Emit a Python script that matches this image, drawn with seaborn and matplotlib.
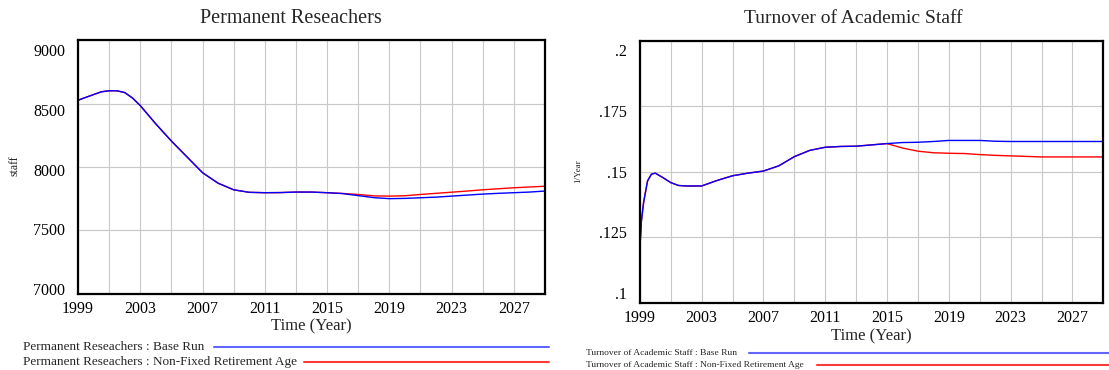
import matplotlib
matplotlib.use("Agg")
import numpy as np
import pandas as pd
import matplotlib.pyplot as plt
from matplotlib.transforms import ScaledTranslation
from matplotlib.lines import Line2D
import seaborn as sns

# ---- data -------------------------------------------------------------
scenario_base = "Base Run"
scenario_alt = "Non-Fixed Retirement Age"

years_res = [1999.0, 1999.5, 2000.0, 2000.5, 2001.0, 2001.5, 2002.0, 2002.5,
             2003.0, 2004.0, 2005.0, 2006.0, 2007.0, 2008.0, 2009.0, 2010.0,
             2011.0, 2012.0, 2013.0, 2014.0, 2015.0, 2016.0, 2017.0, 2018.0,
             2019.0, 2020.0, 2021.0, 2022.0, 2023.0, 2024.0, 2025.0, 2026.0,
             2027.0, 2028.0, 2029.0]
res_base = [8527, 8550, 8572, 8594, 8602, 8602, 8588, 8545,
            8485, 8340, 8205, 8080, 7955, 7872, 7820, 7800,
            7797, 7798, 7802, 7802, 7797, 7790, 7774, 7758,
            7750, 7752, 7757, 7762, 7770, 7778, 7786, 7792,
            7797, 7802, 7810]
res_alt = [8527, 8550, 8572, 8594, 8602, 8602, 8588, 8545,
           8485, 8340, 8205, 8080, 7955, 7872, 7820, 7800,
           7797, 7798, 7802, 7802, 7797, 7791, 7783, 7772,
           7770, 7773, 7783, 7792, 7801, 7810, 7820, 7828,
           7836, 7842, 7848]

years_turn = [1999.0, 1999.1, 1999.25, 1999.5, 1999.75, 2000.0, 2000.5,
              2001.0, 2001.5, 2002.0, 2003.0, 2004.0, 2005.0, 2006.0, 2007.0,
              2008.0, 2009.0, 2010.0, 2011.0, 2012.0, 2013.0, 2014.0, 2015.0,
              2016.0, 2017.0, 2018.0, 2019.0, 2020.0, 2021.0, 2022.0, 2023.0,
              2024.0, 2025.0, 2026.0, 2027.0, 2028.0, 2029.0]
turn_base = [0.1200, 0.1310, 0.1385, 0.1465, 0.1491, 0.1495, 0.1478,
             0.1459, 0.1448, 0.1446, 0.1446, 0.1467, 0.1485, 0.1495, 0.1503,
             0.1523, 0.1558, 0.1582, 0.1594, 0.1597, 0.1598, 0.1603, 0.1608,
             0.1612, 0.1613, 0.1616, 0.1620, 0.1620, 0.1620, 0.1617, 0.1616,
             0.1616, 0.1616, 0.1616, 0.1616, 0.1616, 0.1616]
turn_alt = [0.1200, 0.1310, 0.1385, 0.1465, 0.1491, 0.1495, 0.1478,
            0.1459, 0.1448, 0.1446, 0.1446, 0.1467, 0.1485, 0.1495, 0.1503,
            0.1523, 0.1558, 0.1582, 0.1594, 0.1597, 0.1598, 0.1603, 0.1608,
            0.1591, 0.1579, 0.1573, 0.1571, 0.1570, 0.1566, 0.1563, 0.1561,
            0.1559, 0.1557, 0.1557, 0.1557, 0.1557, 0.1557]

year_ticks = list(range(1999, 2030, 2))
res_ticks = [7000, 7500, 8000, 8500, 9000]
res_tick_labels = ["7000", "7500", "8000", "8500", "9000"]
turn_ticks = [0.1, 0.125, 0.15, 0.175, 0.2]
turn_tick_labels = [".1", ".125", ".15", ".175", ".2"]

# ---- style ------------------------------------------------------------
sns.set_theme(style="white")
plt.rcParams["font.family"] = ["Liberation Serif", "DejaVu Serif"]

W, H = 1109, 370
fig = plt.figure(figsize=(W / 100, H / 100), dpi=100)
fig.patch.set_facecolor("white")

palette = {scenario_base: "#0000ff", scenario_alt: "#ff0000"}


def px_axes(x0, x1, y0, y1):
    """Axes from a pixel box (top-left origin)."""
    return fig.add_axes([x0 / W, 1 - y1 / H, (x1 - x0) / W, (y1 - y0) / H])


def long_frame(years, base, alt):
    return pd.DataFrame({
        "year": list(years) * 2,
        "value": list(alt) + list(base),
        "scenario": [scenario_alt] * len(years) + [scenario_base] * len(years),
    })


def style_panel(ax, yticks, ylabels, ylim, label_lo, label_hi, box_h):
    ax.set_xlim(1999, 2029)
    ax.set_ylim(*ylim)
    ax.set_xticks(year_ticks)
    ax.set_xticklabels([str(y) if (y - 1999) % 4 == 0 else "" for y in year_ticks])
    ax.set_yticks(yticks)
    ax.set_yticklabels(ylabels)
    ax.grid(True, color="#c8c8c8", linewidth=0.8)
    ax.set_axisbelow(True)
    for s in ax.spines.values():
        s.set_color("black")
        s.set_linewidth(1.6)
        s.set_visible(True)
    ax.tick_params(axis="both", length=0, labelsize=11.5, colors="black")
    ax.tick_params(axis="y", pad=9)
    ax.tick_params(axis="x", pad=5)
    ax.set_xlabel("")
    ax.set_ylabel("")
    # spread y labels evenly inside the frame
    lo, hi = ylim
    for t, lab in zip(yticks, ax.get_yticklabels()):
        f = (t - lo) / (hi - lo)
        p = label_lo + f * (label_hi - label_lo)
        dy = (p - f) * box_h / 100.0
        lab.set_transform(lab.get_transform() + ScaledTranslation(0, dy, fig.dpi_scale_trans))


# ---- left panel: Permanent Reseachers --------------------------------
ax1 = px_axes(78, 545, 40.4, 293.6)
sns.lineplot(data=long_frame(years_res, res_base, res_alt), x="year", y="value",
             hue="scenario", hue_order=[scenario_alt, scenario_base],
             palette=palette, linewidth=1.0, legend=False, ax=ax1)
style_panel(ax1, res_ticks, res_tick_labels, (7000, 9000), 0.018, 0.962, 253.2)

fig.text(291 / W, 1 - 18.5 / H, "Permanent Reseachers", ha="center", va="center",
         fontsize=14.5)
fig.text(311.5 / W, 1 - 326 / H, "Time (Year)", ha="center", va="center", fontsize=12)
fig.text(14.5 / W, 1 - 166 / H, "staff", ha="center", va="center", rotation=90,
         fontsize=8.5)

# ---- right panel: Turnover of Academic Staff -------------------------
ax2 = px_axes(639.8, 1103.3, 41, 302.7)
sns.lineplot(data=long_frame(years_turn, turn_base, turn_alt), x="year", y="value",
             hue="scenario", hue_order=[scenario_alt, scenario_base],
             palette=palette, linewidth=1.0, legend=False, ax=ax2)
style_panel(ax2, turn_ticks, turn_tick_labels, (0.1, 0.2), 0.0386, 0.9637, 261.7)

fig.text(853 / W, 1 - 18.5 / H, "Turnover of Academic Staff", ha="center",
         va="center", fontsize=14)
fig.text(871 / W, 1 - 336 / H, "Time (Year)", ha="center", va="center", fontsize=12)
fig.text(578.5 / W, 1 - 171 / H, "1/Year", ha="center", va="center", rotation=90,
         fontsize=6.5)

# ---- legends ----------------------------------------------------------
def legend_row(x_text, y, text, x_line0, x_line1, color, size):
    fig.text(x_text / W, 1 - y / H, text, ha="left", va="center", fontsize=size)
    fig.add_artist(Line2D([x_line0 / W, x_line1 / W], [1 - y / H, 1 - y / H],
                          transform=fig.transFigure, color=color, linewidth=1.5))


legend_row(23, 346.5, "Permanent Reseachers : " + scenario_base, 214, 549,
           "#6464ff", 9.5)
legend_row(23, 362, "Permanent Reseachers : " + scenario_alt, 304, 549,
           "#ff3a3a", 9.5)
legend_row(585.6, 353, "Turnover of Academic Staff : " + scenario_base, 748.6, 1109,
           "#6464ff", 6.8)
legend_row(585.6, 365, "Turnover of Academic Staff : " + scenario_alt, 817, 1109,
           "#ff3a3a", 6.8)

fig.savefig("out.png", dpi=100, facecolor="white")
